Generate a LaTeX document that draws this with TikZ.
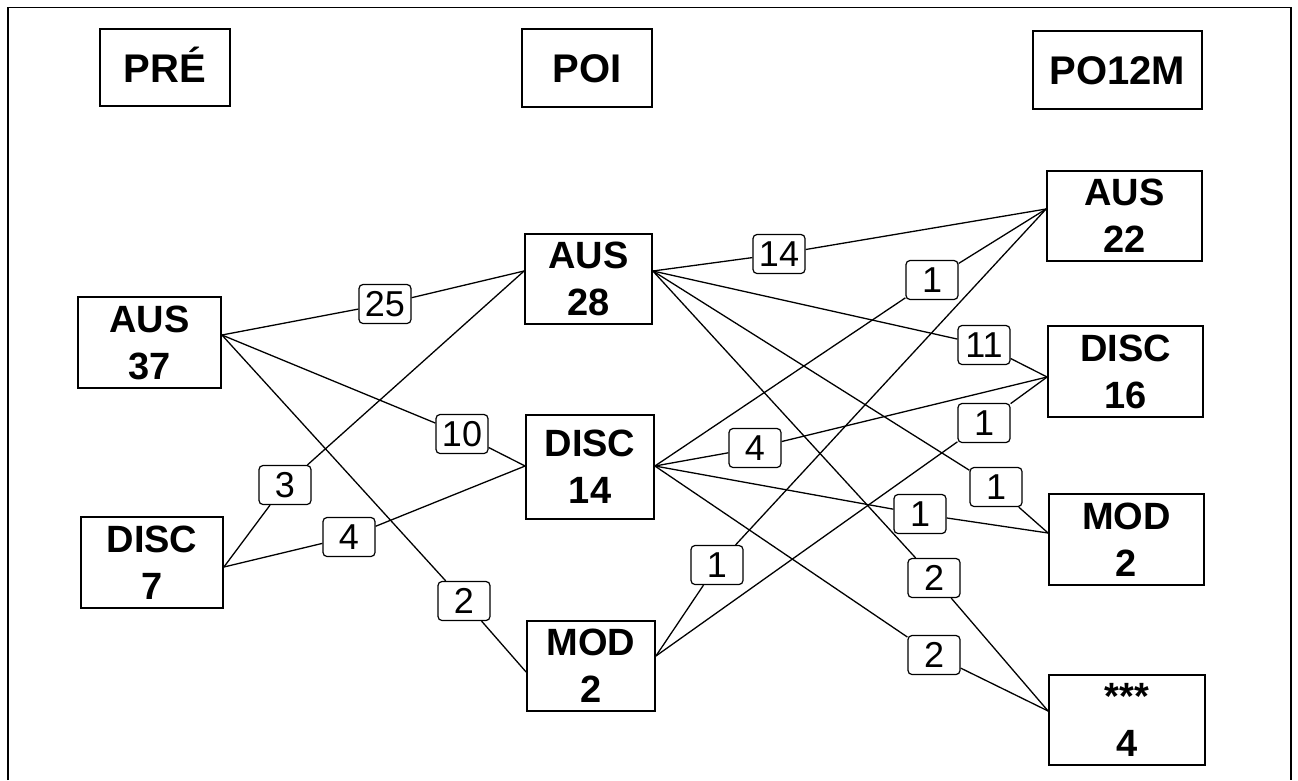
\documentclass[tikz,border=0pt]{standalone}
\usepackage{fontspec}
\setmainfont{Liberation Sans}
\usetikzlibrary{backgrounds}
\begin{document}
\begin{tikzpicture}[x=1pt,y=-1pt,
  box/.style={draw,line width=1.8pt,inner sep=0pt,align=center,font=\bfseries\fontsize{38}{47}\selectfont},
  hdr/.style={draw,line width=1.8pt,inner sep=0pt,text height=29pt,text depth=0pt,font=\bfseries\fontsize{40}{48}\selectfont},
  lab/.style={draw,line width=1.2pt,rounded corners=4pt,fill=white,inner sep=0pt,minimum width=52pt,minimum height=39pt,font=\fontsize{36}{40}\selectfont},
  edge/.style={line width=1.3pt}]
\useasboundingbox (0,0) rectangle (1298,780);
\draw[line width=1.8pt] (8,780) -- (8,7.5) -- (1291,7.5) -- (1291,780);

% headers
\node[hdr,minimum width=130pt,minimum height=77pt] (hpre) at (165,67.5) {PRÉ};
\node[hdr,minimum width=130pt,minimum height=78pt] (hpoi) at (587,68) {POI};
\node[hdr,minimum width=169pt,minimum height=78pt] (hpo) at (1117.5,70) {PO12M};

% main boxes
\node[box,minimum width=143pt,minimum height=91pt] (a1) at (149.5,342.5) {AUS\\37};
\node[box,minimum width=142pt,minimum height=91pt] (d1) at (152,562.5) {DISC\\7};
\node[box,minimum width=127pt,minimum height=90pt] (a2) at (588.5,279) {AUS\\28};
\node[box,minimum width=128pt,minimum height=104pt] (d2) at (590,467) {DISC\\14};
\node[box,minimum width=128pt,minimum height=90pt] (m2) at (591,666) {MOD\\2};
\node[box,minimum width=155pt,minimum height=90pt] (a3) at (1124.5,216) {AUS\\22};
\node[box,minimum width=155pt,minimum height=91pt] (d3) at (1125.5,371.5) {DISC\\16};
\node[box,minimum width=155pt,minimum height=91pt] (m3) at (1126.5,539.5) {MOD\\2};
\node[box,minimum width=156pt,minimum height=90pt] (s3) at (1127,720) {***\\4};

% attachment points
\coordinate (a1o) at ([yshift=7.5pt]a1.east);
\coordinate (d1o) at ([yshift=-4.5pt]d1.east);
\coordinate (a2i) at ([yshift=8pt]a2.west);
\coordinate (a2o) at ([yshift=8pt]a2.east);
\coordinate (d2i) at ([yshift=1pt]d2.west);
\coordinate (d2o) at ([yshift=1pt]d2.east);
\coordinate (m2i) at ([yshift=-6pt]m2.west);
\coordinate (m2o) at ([yshift=10pt]m2.east);
\coordinate (a3i) at ([yshift=7pt]a3.west);
\coordinate (d3i) at ([yshift=-5.5pt]d3.west);
\coordinate (m3i) at ([yshift=6.5pt]m3.west);
\coordinate (s3i) at ([yshift=9pt]s3.west);

% labels
\node[lab] (L25) at (385,304) {25};
\node[lab] (L10) at (462,434) {10};
\node[lab] (L2a) at (464,601) {2};
\node[lab] (L3) at (285,485) {3};
\node[lab] (L4a) at (349,537) {4};
\node[lab] (L14) at (779,254) {14};
\node[lab] (L11) at (984,345) {11};
\node[lab] (L1c) at (996,487) {1};
\node[lab] (L2b) at (934,578) {2};
\node[lab] (L1a) at (932,280) {1};
\node[lab] (L4b) at (755,448) {4};
\node[lab] (L1d) at (920,514) {1};
\node[lab] (L2c) at (934,655) {2};
\node[lab] (L1b) at (717,565) {1};
\node[lab] (L1e) at (984,423) {1};

\begin{scope}[on background layer]
\draw[edge] (a1o) -- (L25) -- (a2i);
\draw[edge] (a1o) -- (L10) -- (d2i);
\draw[edge] (a1o) -- (L2a) -- (m2i);
\draw[edge] (d1o) -- (L3) -- (a2i);
\draw[edge] (d1o) -- (L4a) -- (d2i);
\draw[edge] (a2o) -- (L14) -- (a3i);
\draw[edge] (a2o) -- (L11) -- (d3i);
\draw[edge] (a2o) -- (L1c) -- (m3i);
\draw[edge] (a2o) -- (L2b) -- (s3i);
\draw[edge] (d2o) -- (L1a) -- (a3i);
\draw[edge] (d2o) -- (L4b) -- (d3i);
\draw[edge] (d2o) -- (L1d) -- (m3i);
\draw[edge] (d2o) -- (L2c) -- (s3i);
\draw[edge] (m2o) -- (L1b) -- (a3i);
\draw[edge] (m2o) -- (L1e) -- (d3i);
\end{scope}
\end{tikzpicture}
\end{document}
